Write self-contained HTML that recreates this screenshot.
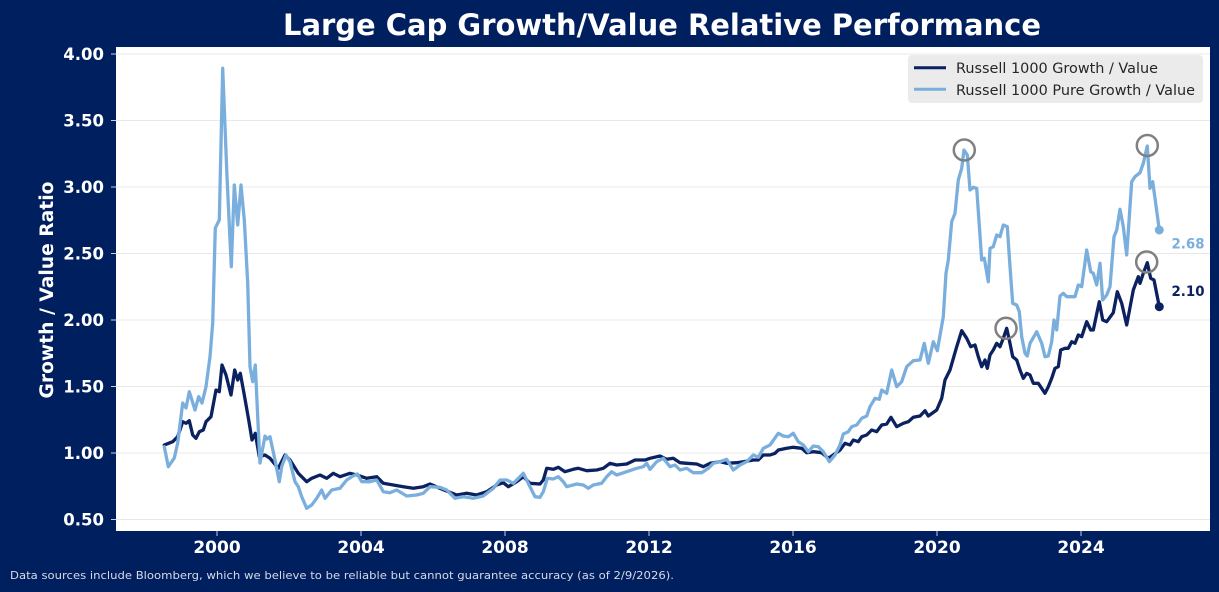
<!DOCTYPE html>
<html><head><meta charset="utf-8"><style>
html,body{margin:0;padding:0;background:#001f5f;}
svg{display:block;}
</style></head><body>
<svg width="1219" height="592" viewBox="0 0 1219 592" xmlns="http://www.w3.org/2000/svg">
<rect x="0" y="0" width="1219" height="592" fill="#001f5f"/>
<text x="662" y="35" fill="#ffffff" font-family="DejaVu Sans, Liberation Sans, sans-serif" font-weight="bold" font-size="29" text-anchor="middle" textLength="758" lengthAdjust="spacingAndGlyphs">Large Cap Growth/Value Relative Performance</text>
<rect x="116" y="47" width="1094" height="484" fill="#ffffff"/>
<g stroke="#e8e8e8" stroke-width="1">
<line x1="116" y1="519.5" x2="1210" y2="519.5"/>
<line x1="116" y1="453" x2="1210" y2="453"/>
<line x1="116" y1="386.5" x2="1210" y2="386.5"/>
<line x1="116" y1="320" x2="1210" y2="320"/>
<line x1="116" y1="253.5" x2="1210" y2="253.5"/>
<line x1="116" y1="187" x2="1210" y2="187"/>
<line x1="116" y1="120.5" x2="1210" y2="120.5"/>
<line x1="116" y1="54" x2="1210" y2="54"/>
</g>
<g stroke="#c8cede" stroke-width="1">
<line x1="111" y1="519.5" x2="116" y2="519.5"/>
<line x1="111" y1="453" x2="116" y2="453"/>
<line x1="111" y1="386.5" x2="116" y2="386.5"/>
<line x1="111" y1="320" x2="116" y2="320"/>
<line x1="111" y1="253.5" x2="116" y2="253.5"/>
<line x1="111" y1="187" x2="116" y2="187"/>
<line x1="111" y1="120.5" x2="116" y2="120.5"/>
<line x1="111" y1="54" x2="116" y2="54"/>
<line x1="217" y1="531" x2="217" y2="536"/>
<line x1="361" y1="531" x2="361" y2="536"/>
<line x1="505" y1="531" x2="505" y2="536"/>
<line x1="649" y1="531" x2="649" y2="536"/>
<line x1="793" y1="531" x2="793" y2="536"/>
<line x1="937" y1="531" x2="937" y2="536"/>
<line x1="1081" y1="531" x2="1081" y2="536"/>
</g>
<g fill="#ffffff" font-family="DejaVu Sans, Liberation Sans, sans-serif" font-weight="bold" font-size="16.5" text-anchor="end">
<text x="104" y="525.5">0.50</text>
<text x="104" y="459">1.00</text>
<text x="104" y="392.5">1.50</text>
<text x="104" y="326">2.00</text>
<text x="104" y="259.5">2.50</text>
<text x="104" y="193">3.00</text>
<text x="104" y="126.5">3.50</text>
<text x="104" y="60">4.00</text>
</g>
<g fill="#ffffff" font-family="DejaVu Sans, Liberation Sans, sans-serif" font-weight="bold" font-size="17" text-anchor="middle">
<text x="217" y="553">2000</text>
<text x="361" y="553">2004</text>
<text x="505" y="553">2008</text>
<text x="649" y="553">2012</text>
<text x="793" y="553">2016</text>
<text x="937" y="553">2020</text>
<text x="1081" y="553">2024</text>
</g>
<text transform="translate(53,290) rotate(-90)" fill="#ffffff" font-family="DejaVu Sans, Liberation Sans, sans-serif" font-weight="bold" font-size="18.5" text-anchor="middle" textLength="217" lengthAdjust="spacingAndGlyphs">Growth / Value Ratio</text>

<polyline fill="none" stroke="#0b2160" stroke-width="3.3" stroke-linejoin="round" stroke-linecap="round" points="164.3,445 172.7,441.7 177.7,436.7 182.7,421.7 186,423.3 189.3,420.7 192.7,435 196,438.3 199.3,431.7 203.3,430 206,421.7 211,416.7 216,390 219.3,391.7 222,365 226,375 231,395 234.7,370 237.7,380 240.3,373.3 244.3,395 248.7,420 252,440 255.3,433.3 259.3,456.7 265,455 270,458.3 278.3,468.3 285,455 290,460 298.3,473.3 306.7,481.7 311.7,478.3 320,475 326.7,478.3 333.3,473.3 340,476.7 350,473.3 356.7,475 366.7,478.3 376.7,476.7 383.3,483.3 393.3,485 403.3,486.7 413.3,488.3 423.3,486.7 430,484 440,488.3 448.3,491.7 456.7,495 466.7,493.3 476.7,495 486.7,491.7 496.7,485 503.3,482.7 508.3,486.7 516.7,481.7 523.3,476.7 530,483.3 540,484 543.3,480 546.7,468.3 553.3,469.3 558.3,467.3 565,471.7 573.3,469.3 578.3,468.3 586.7,470.7 596.7,470 603.3,468.3 610,463.3 616.7,465 626.7,464 635,460 645,460 650,458.3 660,456 666.7,459.3 673.3,458.3 680,462.7 686.7,463.3 696.7,464 703.3,466.7 710,463.3 720,461.7 726.7,463.3 736.7,462.7 743.3,461.7 753.3,460 758.3,460 763.3,455 770,455 775,453.3 778.3,450 786.7,448.3 793.3,447.3 801.7,448.3 806.7,452.7 813.3,451.7 821.7,452.7 828.3,458.3 833.3,455 840,450 845,443.3 850,445 853.3,440 858.3,441.7 861.7,436.7 866.7,435 871.7,430 876.7,431.7 881.7,425 886.7,424 891,417.3 896.7,426.7 903.3,423.3 908.3,421.7 913.3,417.3 920,416 925,410.7 928.3,416 936.7,410 941.7,398.3 945,380 950,370 956.7,346.7 961.7,330.7 966.7,338.3 970.7,346.7 975,345 978.3,356.7 981.7,366.7 985,360 987.3,368.3 990,355 993.3,350 996.7,343.3 1000,346.7 1003.3,338.3 1006.7,328.3 1009.3,340 1012.7,356.7 1016.7,360 1020,370 1023.3,378.3 1026.7,373.3 1030,375 1033.3,383.3 1038.3,383.3 1045,393.3 1048.3,386.7 1051.7,378.3 1055,368.3 1058.3,366.7 1060.7,350 1065,348.3 1068.3,348.3 1071.7,341.7 1075,343.3 1078.3,335 1081.7,336.7 1086.7,321.7 1090.7,330 1093.3,330 1099.3,301.7 1102.7,320 1106.7,321.7 1113.3,312.7 1117.3,291.7 1121.7,303.3 1126.7,325 1133.3,290 1138.3,276.7 1140,283.3 1143.3,273.3 1147.3,262.7 1150.7,278.3 1154,280 1159.3,306.7"/>

<polyline fill="none" stroke="#7aafdd" stroke-width="3.3" stroke-linejoin="round" stroke-linecap="round" points="164.3,446.7 168.3,466.7 174.3,458 177.7,443 182.7,403 186,408 189.3,391.7 195,410 198.7,396.7 202,403 206,386.7 210,356.7 212.7,323 215.3,228 219.3,220 222.7,68.3 227,176.7 231.3,266.7 234.3,185 237.7,225 241,185 244.3,220 247.7,283 250,366.7 252.7,381.7 255.3,365 257.7,416.7 260,463 265,436 267,439 270,436.7 275,460 279.3,481.7 281.7,466.7 286,455 290,461.7 295,481.7 298.3,486.7 301.7,496.7 306.7,508.3 311.7,505 316.7,498.3 321.7,490 325,498.3 331.7,490 340,488.3 346.7,480 351.7,476.7 357.3,474 361.7,481.7 370,481.7 376.7,480 383.3,491.7 390,492.7 396.7,490 406.7,496 416.7,495 423.3,493.3 430,486.7 440,487.3 446.7,490 455,498.3 463.3,496.7 473.3,498.3 483.3,496 493.3,488.3 500,480 506.7,480 513.3,483.3 520,476.7 523.3,473.3 530,486.7 535,496.7 540,497.3 543.3,491.7 547.3,478.3 553.3,479 558.3,476.7 563.3,481.7 566.7,486.7 576.7,484 583.3,485 588.3,488.3 593.3,485 601.7,483.3 606.7,476.7 611.7,471.7 616.7,475 626.7,471.7 636.7,468.3 643.3,466.7 646.7,463.3 650,469.3 656.7,461.7 663.3,458.3 670,466.7 675,465 680,470 686.7,468.3 693.3,472.7 701.7,472.7 708.3,468.3 713.3,463.3 720,461.7 726.7,459.3 733.3,470 740,465 746.7,461.7 753.3,455 758.3,457.3 763.3,448.3 770,445 778.3,433.3 783.3,436 788.3,436.7 793.3,433.3 798.3,441.7 803.3,445 808.3,451.7 813.3,446 818.3,446.7 823.3,451.7 829.3,461.7 835,455 840,445 843.3,434 848.3,431.7 851.7,426.7 856.7,425 861.7,418.3 866.7,416 870,406.7 875,398.3 879.3,399.3 881.7,390 886.7,393.3 891.7,370 896.7,386.7 901.7,381.7 906.7,366.7 913.3,360.7 920,360 924.3,343.3 928.3,363.3 933.3,341.7 937.3,350.7 943.3,316.7 946,273.3 948.3,260 951.7,221.7 955,213.3 958.3,180 961.7,168.3 964,150 967.3,155 970,190 973.3,187.3 976.7,188.3 981.7,260 984.3,258.3 988.3,281.7 990,248.3 993.3,246.7 996.7,235 1000,236.7 1003.3,225 1007.3,226.7 1010,266.7 1012.7,303.3 1016.7,305 1019.3,311.7 1021.7,336.7 1025,353.3 1027.3,356 1030,343.3 1036.7,331.7 1041.7,343.3 1045,356.7 1048.3,356 1051.7,341.7 1054,320 1056.7,330 1060,296 1063.3,293.3 1066.7,296.7 1075,296.7 1078.3,285 1081.7,286.7 1086.7,250 1090.7,271.7 1093.3,273.3 1096.7,285 1100,263.3 1102.7,300 1106.7,295 1110,286.7 1114,236.7 1116.7,230 1120,209.3 1123.3,226.7 1126.7,255 1131.7,181.7 1135,176.7 1140,172.7 1143.3,163.3 1147.3,146 1150,188.3 1152.7,181.7 1155,198.3 1159.3,230"/>

<circle cx="1159.3" cy="306.7" r="4.5" fill="#0b2160"/>
<circle cx="1159.3" cy="230" r="4.5" fill="#7aafdd"/>

<g fill="none" stroke="#808080" stroke-width="2.5">
<circle cx="964.3" cy="150" r="10.5"/>
<circle cx="1006" cy="328.3" r="10.5"/>
<circle cx="1147.3" cy="145.5" r="10.5"/>
<circle cx="1146.7" cy="262" r="10.5"/>
</g>

<text x="1171.5" y="248.5" fill="#7aafdd" font-family="DejaVu Sans, Liberation Sans, sans-serif" font-weight="bold" font-size="14" textLength="33" lengthAdjust="spacingAndGlyphs">2.68</text>
<text x="1171.5" y="296" fill="#0b2160" font-family="DejaVu Sans, Liberation Sans, sans-serif" font-weight="bold" font-size="14" textLength="33" lengthAdjust="spacingAndGlyphs">2.10</text>

<rect x="908" y="55" width="295" height="48" rx="4" fill="#ebebeb"/>
<line x1="914" y1="67.7" x2="946" y2="67.7" stroke="#0b2160" stroke-width="3"/>
<line x1="914" y1="89.3" x2="946" y2="89.3" stroke="#7aafdd" stroke-width="3"/>
<g fill="#262626" font-family="DejaVu Sans, Liberation Sans, sans-serif" font-size="14">
<text x="956" y="73" textLength="202" lengthAdjust="spacingAndGlyphs">Russell 1000 Growth / Value</text>
<text x="956" y="95" textLength="239" lengthAdjust="spacingAndGlyphs">Russell 1000 Pure Growth / Value</text>
</g>

<text x="10" y="579" fill="#d6dae4" font-family="DejaVu Sans, Liberation Sans, sans-serif" font-size="11" textLength="664" lengthAdjust="spacingAndGlyphs">Data sources include Bloomberg, which we believe to be reliable but cannot guarantee accuracy (as of 2/9/2026).</text>
</svg>
</body></html>
